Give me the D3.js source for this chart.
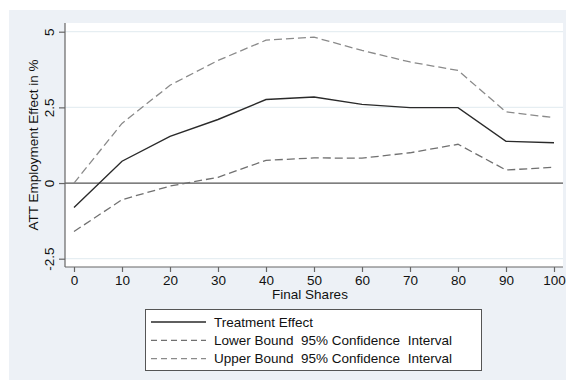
<!DOCTYPE html>
<html>
<head>
<meta charset="utf-8">
<script src="https://cdn.jsdelivr.net/npm/d3@7"></script>
<style>
  body { margin: 0; background: #fff; }
  text { font-family: "Liberation Sans", Arial, sans-serif; fill: #111; }
</style>
</head>
<body>
<script>
let shares = [0, 10, 20, 30, 40, 50, 60, 70, 80, 90, 100];
let treatment = [-0.81, 0.72, 1.54, 2.1, 2.76, 2.84, 2.6, 2.49, 2.49, 1.38, 1.33];
let lower = [-1.6, -0.55, -0.1, 0.19, 0.75, 0.83, 0.82, 1.0, 1.28, 0.43, 0.52];
let upper = [0, 1.97, 3.23, 4.05, 4.72, 4.82, 4.38, 4.0, 3.72, 2.35, 2.16];
let yTicks = [-2.5, 0, 2.5, 5];
let legendLabels = ["Treatment Effect", "Lower Bound  95% Confidence  Interval", "Upper Bound  95% Confidence  Interval"];

let width = 566, height = 383;
let plot = {left: 65, right: 563, top: 23, bottom: 267};

let x = d3.scaleLinear().domain([0, 100]).range([74, 554]);
let y = d3.scaleLinear().domain([-2.5, 5]).range([258.7, 31.7]);

let svg = d3.select("body").append("svg")
    .attr("width", width)
    .attr("height", height);

// outer graph region
svg.append("rect")
    .attr("x", 9).attr("y", 10)
    .attr("width", width - 9).attr("height", 370)
    .attr("fill", "#edf1f6");

svg.append("rect")
    .attr("x", plot.left).attr("y", plot.top)
    .attr("width", plot.right - plot.left).attr("height", plot.bottom - plot.top)
    .attr("fill", "#fff");

// grid
svg.selectAll(".grid")
    .data(yTicks.filter(d => d !== 0))
    .enter().append("line")
    .attr("x1", plot.left).attr("x2", plot.right)
    .attr("y1", d => y(d)).attr("y2", d => y(d))
    .attr("stroke", "#e6eef2")
    .attr("stroke-width", 1.2);

// zero line
svg.append("line")
    .attr("x1", plot.left).attr("x2", plot.right)
    .attr("y1", y(0)).attr("y2", y(0))
    .attr("stroke", "#555")
    .attr("stroke-width", 1.2);

// axes
let yAxis = d3.axisLeft(y).tickValues(yTicks).tickSize(6).tickFormat(d => d);
let gy = svg.append("g")
    .attr("transform", "translate(" + plot.left + ",0)")
    .call(yAxis);
gy.select(".domain").attr("d", "M0," + plot.top + "V" + plot.bottom);
gy.selectAll(".tick text")
    .attr("transform", "rotate(-90)")
    .attr("x", 0).attr("y", -11)
    .attr("dy", 0)
    .style("text-anchor", "middle")
    .style("font-size", "13.5px");

let xAxis = d3.axisBottom(x).tickValues(shares).tickSize(5);
let gx = svg.append("g")
    .attr("transform", "translate(0," + plot.bottom + ")")
    .call(xAxis);
gx.select(".domain").attr("d", "M" + plot.left + ",0H" + plot.right);
gx.selectAll(".tick text")
    .attr("y", 8)
    .style("font-size", "13.5px");

svg.selectAll(".domain, .tick line")
    .attr("stroke", "#666")
    .attr("stroke-width", 1.2);
svg.selectAll(".tick text").attr("font-family", null).attr("fill", "#111");

svg.append("text")
    .attr("transform", "translate(38," + ((plot.top + plot.bottom) / 2) + ") rotate(-90)")
    .style("text-anchor", "middle")
    .style("font-size", "13.5px")
    .text("ATT Employment Effect in %");

svg.append("text")
    .attr("x", (plot.left + plot.right) / 2 - 4)
    .attr("y", 298.5)
    .style("text-anchor", "middle")
    .style("font-size", "13.5px")
    .text("Final Shares");

// lines
let series = [
    {values: treatment, color: "#2a2a2a", dash: null, width: 1.4},
    {values: lower, color: "#707070", dash: "8,4", width: 1.3},
    {values: upper, color: "#8a8a8a", dash: "8,4", width: 1.3}
];

let line = d3.line()
    .x((d, i) => x(shares[i]))
    .y(d => y(d));

svg.selectAll(".series")
    .data(series)
    .enter().append("path")
    .attr("d", d => line(d.values))
    .attr("fill", "none")
    .attr("stroke", d => d.color)
    .attr("stroke-width", d => d.width)
    .attr("stroke-dasharray", d => d.dash);

// legend
let legend = svg.append("g");
legend.append("rect")
    .attr("x", 145.5).attr("y", 309.5)
    .attr("width", 336).attr("height", 61)
    .attr("fill", "#fff")
    .attr("stroke", "#555")
    .attr("stroke-width", 1);

let item = legend.selectAll(".item")
    .data(series)
    .enter().append("g")
    .attr("transform", (d, i) => "translate(0," + (322 + i * 18.3) + ")");

item.append("line")
    .attr("x1", 151).attr("x2", 206)
    .attr("y1", 0).attr("y2", 0)
    .attr("stroke", d => d.color)
    .attr("stroke-width", d => d.width)
    .attr("stroke-dasharray", d => d.dash ? "6,4" : null);

item.append("text")
    .attr("x", 214)
    .attr("dy", "0.35em")
    .style("font-size", "13.5px")
    .style("white-space", "pre")
    .text((d, i) => legendLabels[i]);
</script>
</body>
</html>
